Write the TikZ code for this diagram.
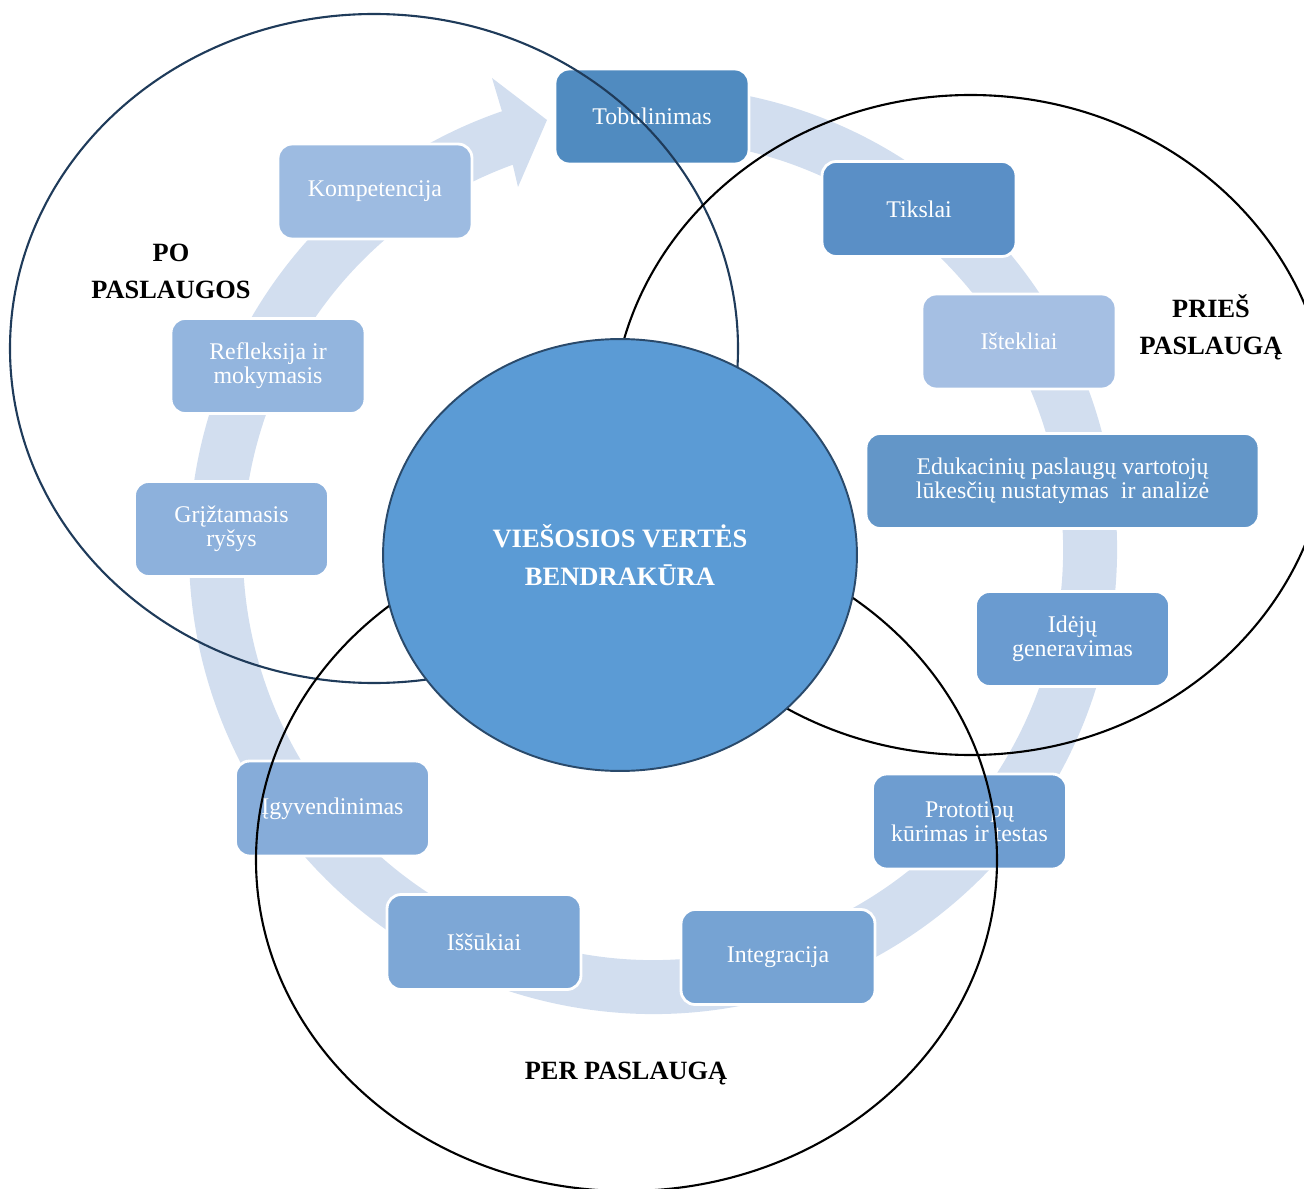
\documentclass[tikz,border=0pt]{standalone}
\usepackage{fontspec}
\setmainfont{Liberation Serif}
\usetikzlibrary{shapes.geometric}
\definecolor{ringc}{HTML}{D2DEEF}
\definecolor{navy}{HTML}{1F3B5A}
\definecolor{circfill}{HTML}{5B9BD5}
\definecolor{circline}{HTML}{2A4A6B}
\definecolor{cA}{HTML}{508BC0}
\definecolor{cB}{HTML}{5A8FC6}
\definecolor{cC}{HTML}{A5BFE3}
\definecolor{cD}{HTML}{6396C8}
\definecolor{cE}{HTML}{6A9BD0}
\definecolor{cF}{HTML}{6E9DD0}
\definecolor{cG}{HTML}{76A3D3}
\definecolor{cH}{HTML}{7DA7D6}
\definecolor{cI}{HTML}{86ACD9}
\definecolor{cJ}{HTML}{8DB1DC}
\definecolor{cK}{HTML}{93B5DE}
\definecolor{cL}{HTML}{9DBBE1}
\begin{document}
\begin{tikzpicture}[x=0.02cm,y=-0.02cm,
  box/.style={draw=white, line width=1.6pt, rounded corners=8pt,
    minimum width=3.88cm, minimum height=1.9cm, text=white, align=center,
    font=\fontsize{13.6}{13.8}\selectfont, inner sep=2pt},
  lbl/.style={align=center, font=\fontsize{15}{21}\selectfont\bfseries, text=black},
  zone/.style={line width=1.2pt}]
\useasboundingbox (0,0) rectangle (1304,1189);
\begin{scope}
\clip (0,0) rectangle (1304,1189);
% circular arrow
\fill[ringc] ([shift={(-80:464)}]653,550) arc[start angle=-80, end angle=251, radius=464]
  -- (492,78) -- (547,120) -- (518,187)
  -- ([shift={(250:410)}]653,550) arc[start angle=250, end angle=-80, radius=410] -- cycle;
% boxes
\node[box, fill=cA] (tob) at (652,116.5) {Tobulinimas};
\node[box, fill=cB] (tik) at (919,209) {Tikslai};
\node[box, fill=cC] (ist) at (1019,341.5) {Ištekliai};
\node[box, fill=cD, minimum width=7.86cm] (edu) at (1062.5,481) {Edukacinių paslaugų vartotojų\\lūkesčių nustatymas\ \ ir analizė};
\node[box, fill=cE] (ide) at (1072.5,639) {Idėjų\\generavimas};
\node[box, fill=cF] (pro) at (969.5,821.5) {Prototipų\\kūrimas ir testas};
\node[box, fill=cG] (int) at (778,957) {Integracija};
\node[box, fill=cH] (iss) at (484,942) {Iššūkiai};
\node[box, fill=cI] (igy) at (332.5,808.5) {Įgyvendinimas};
\node[box, fill=cJ] (gri) at (231.5,529) {Grįžtamasis\\ryšys};
\node[box, fill=cK] (ref) at (268,366) {Refleksija ir\\mokymasis};
\node[box, fill=cL] (kom) at (375,191.5) {Kompetencija};
% zones
\draw[zone, draw=navy] (374,348.5) ellipse[x radius=364, y radius=334.5];
\draw[zone, draw=black] (970.6,425) ellipse[x radius=358.8, y radius=330];
\draw[zone, draw=black] (626.5,860) ellipse[x radius=370.5, y radius=331];
% centre
\node[ellipse, draw=circline, line width=1.1pt, fill=circfill, minimum width=9.48cm,
  minimum height=8.64cm, inner sep=0pt, text=white, align=center,
  font=\fontsize{15.1}{21.5}\selectfont\bfseries] (core) at (620,555)
  {VIEŠOSIOS VERTĖS\\BENDRAKŪRA};
\end{scope}
% zone labels
\node[lbl] (po) at (171,271) {PO\\PASLAUGOS};
\node[lbl] (pries) at (1211,327) {PRIEŠ\\PASLAUGĄ};
\node[lbl] (per) at (626,1074) {PER PASLAUGĄ};
\end{tikzpicture}
\end{document}
